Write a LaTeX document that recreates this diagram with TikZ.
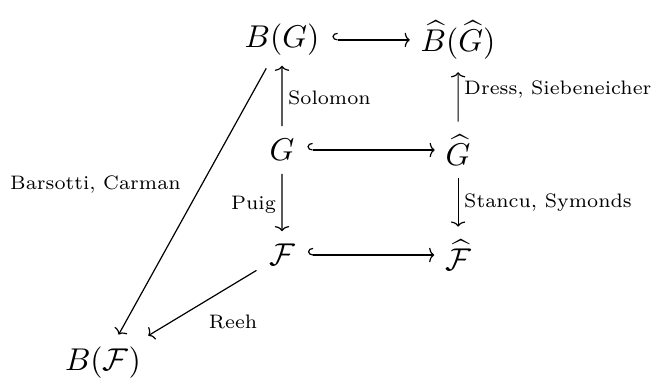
\documentclass[tikz,border=0pt]{standalone}
\usepackage{amsmath,amssymb}
\usepackage{tikz}
\usetikzlibrary{arrows.meta,positioning}
\tikzset{
  obj/.style={inner sep=3pt,scale=1.05},
  mor/.style={-{To[length=1.7pt,width=4.8pt]},line width=0.4pt,shorten <=1pt,shorten >=1pt},
  inc/.style={{Hooks[right,length=1.7pt,width=4.8pt]}-{To[length=1.7pt,width=4.8pt]},line width=0.4pt,shorten <=1pt,shorten >=0.3pt},
  lab/.style={font=\scriptsize,inner sep=2pt,scale=0.93}
}
\begin{document}
\begin{tikzpicture}[node distance=36.7pt and 58.7pt,on grid]
  \useasboundingbox (-94pt,50pt) rectangle (125pt,-77pt);
  \node[obj] (G) at (0,0) {$G$};
  \node[obj,right=of G] (hG) {$\widehat{G}$};
  \node[obj,above=of G] (BG) {$B(G)$};
  \node[obj,above=of hG] (hBG) {$\widehat{B}(\widehat{G})$};
  \node[obj,below=35pt of G] (F) {$\mathcal{F}$};
  \node[obj,below=35pt of hG] (hF) {$\widehat{\mathcal{F}}$};
  \node[obj,below left=36pt and 59.7pt of F] (BF) {$B(\mathcal{F})$};
  % horizontal inclusions
  \draw[inc] (BG) -- (hBG);
  \draw[inc] (G) -- (hG);
  \draw[inc] (F) -- (hF);
  % vertical maps
  \draw[mor,shorten >=0pt] (G) -- node[lab,right] {Solomon} (BG);
  \draw[mor] (hG) -- node[lab,right,yshift=2.5pt] {Dress, Siebeneicher} (hBG);
  \draw[mor] (G) -- node[lab,left,yshift=-1pt] {Puig} (F);
  \draw[mor] (hG) -- node[lab,right] {Stancu, Symonds} (hF);
  % into B(F)
  \draw[mor] (BG) -- node[lab,anchor=east,xshift=-2pt,yshift=6pt] {Barsotti, Carman} (BF);
  \draw[mor] (F) -- node[lab,xshift=11pt,yshift=-6.8pt] {Reeh} (BF);
\end{tikzpicture}
\end{document}
